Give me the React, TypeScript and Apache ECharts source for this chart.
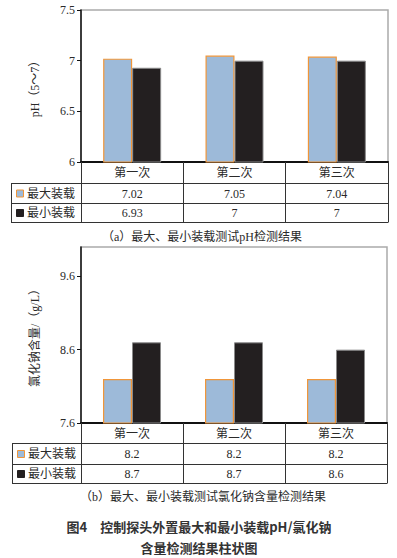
import React, { useEffect, useRef } from "react";
import * as echarts from "echarts";

const categories = ["第一次", "第二次", "第三次"];
const seriesNames = ["最大装载", "最小装载"];
const phMax = [7.02, 7.05, 7.04];
const phMin = [6.93, 7, 7];
const naclMax = [8.2, 8.2, 8.2];
const naclMin = [8.7, 8.7, 8.6];
const phAxis = { min: 6, max: 7.5, interval: 0.5 };
const naclTicks = [7.6, 8.6, 9.6];
const naclAxis = { min: 7.6, max: 10 };
const phName = "pH（5～7）";
const naclName = "氯化钠含量/（g/L）";
const captionA = "（a）最大、最小装载测试pH检测结果";
const captionB = "（b）最大、最小装载测试氯化钠含量检测结果";
const titleLines = ["图4　控制探头外置最大和最小装载pH/氯化钠", "含量检测结果柱状图"];

const SERIF = '"Liberation Serif", "Times New Roman", "Noto Sans CJK SC", serif';
const SANS = '"Noto Sans CJK SC", sans-serif';
const BLUE = "#9DBAD9";
const ORANGE = "#F0963A";
const BLACK = "#231F20";
const TXT = "#2a2a2a";

const top = { left: 81, top: 10, width: 307, height: 152, tableLeft: 11, rows: [162, 183, 203, 222] };
const bot = { left: 81, top: 247, width: 306, height: 176, tableLeft: 12, rows: [423, 443, 464, 483] };

function tableGraphics(g: typeof top, maxVals: number[], minVals: number[]) {
  const els: any[] = [];
  const right = g.left + g.width;
  const [, r1, r2, r3] = g.rows;
  [r1, r2, r3].forEach((y) => {
    els.push({ type: "line", shape: { x1: g.tableLeft, y1: y + 0.5, x2: right + 0.5, y2: y + 0.5 }, style: { stroke: "#333", lineWidth: 1 } });
  });
  els.push({ type: "line", shape: { x1: g.tableLeft + 0.5, y1: r1, x2: g.tableLeft + 0.5, y2: r3 + 1 }, style: { stroke: "#333", lineWidth: 1 } });
  const rowsY = [(r1 + r2) / 2 + 0.5, (r2 + r3) / 2 + 0.5];
  const colW = g.width / categories.length;
  [maxVals, minVals].forEach((vals, ri) => {
    const cy = rowsY[ri];
    els.push({
      type: "rect",
      shape: { x: g.tableLeft + 5.5, y: cy - 3.5, width: 7, height: 7 },
      style: ri === 0 ? { fill: BLUE, stroke: ORANGE, lineWidth: 1 } : { fill: BLACK, stroke: BLACK, lineWidth: 1 },
    });
    els.push({
      type: "text",
      x: g.tableLeft + 16,
      y: cy,
      style: { text: seriesNames[ri], font: `12px ${SERIF}`, fill: TXT, verticalAlign: "middle", align: "left" },
    });
    vals.forEach((v, ci) => {
      els.push({
        type: "text",
        x: g.left + (ci + 0.5) * colW,
        y: cy,
        style: { text: String(v), font: `12px ${SERIF}`, fill: TXT, verticalAlign: "middle", align: "center" },
      });
    });
  });
  return els;
}

export default function App() {
  const ref = useRef<HTMLDivElement>(null);
  useEffect(() => {
    if (!ref.current) return;
    const chart = echarts.init(ref.current, undefined, { renderer: "svg" });
    const xAxisCommon = {
      type: "category" as const,
      data: categories,
      axisLine: { lineStyle: { color: "#111", width: 2 } },
      axisTick: { show: true, interval: 0, length: 60, lineStyle: { color: "#333", width: 1 } },
      axisLabel: { color: TXT, fontSize: 12, fontFamily: SERIF, margin: 5, interval: 0 },
    };
    const yAxisCommon = {
      type: "value" as const,
      nameLocation: "middle" as const,
      nameTextStyle: { color: TXT, fontSize: 12, fontFamily: SERIF },
      axisLine: { show: true, lineStyle: { color: "#111", width: 1.5 } },
      axisTick: { show: true, length: 4, lineStyle: { color: "#111" } },
      splitLine: { show: false },
      axisLabel: { color: TXT, fontSize: 12, fontFamily: SERIF, margin: 6 },
    };
    const barMax = { itemStyle: { color: BLUE, borderColor: ORANGE, borderWidth: 1.2 } };
    const barMin = { itemStyle: { color: BLACK, borderColor: "#8a8a8a", borderWidth: 1 } };
    chart.setOption({
      animation: false,
      grid: [
        { left: top.left, top: top.top, width: top.width, height: top.height, show: true, borderColor: "#aaa", borderWidth: 1.5, backgroundColor: "transparent" },
        { left: bot.left, top: bot.top, width: bot.width, height: bot.height, show: true, borderColor: "#aaa", borderWidth: 1.5, backgroundColor: "transparent" },
      ],
      xAxis: [
        { ...xAxisCommon, gridIndex: 0 },
        { ...xAxisCommon, gridIndex: 1 },
      ],
      yAxis: [
        { ...yAxisCommon, gridIndex: 0, min: phAxis.min, max: phAxis.max, interval: phAxis.interval, name: phName, nameGap: 40 },
        {
          ...yAxisCommon,
          gridIndex: 1,
          min: naclAxis.min,
          max: naclAxis.max,
          name: naclName,
          nameGap: 40,
          axisLabel: { ...yAxisCommon.axisLabel, customValues: naclTicks },
          axisTick: { ...yAxisCommon.axisTick, customValues: naclTicks },
        },
      ],
      series: [
        { type: "bar", name: seriesNames[0], xAxisIndex: 0, yAxisIndex: 0, data: phMax, barWidth: 29, barGap: "0%", ...barMax },
        { type: "bar", name: seriesNames[1], xAxisIndex: 0, yAxisIndex: 0, data: phMin, barWidth: 29, barGap: "0%", ...barMin },
        { type: "bar", name: seriesNames[0], xAxisIndex: 1, yAxisIndex: 1, data: naclMax, barWidth: 29, barGap: "0%", ...barMax },
        { type: "bar", name: seriesNames[1], xAxisIndex: 1, yAxisIndex: 1, data: naclMin, barWidth: 29, barGap: "0%", ...barMin },
      ],
      graphic: [
        ...tableGraphics(top, phMax, phMin),
        ...tableGraphics(bot, naclMax, naclMin),
        { type: "text", x: 202, y: 237, style: { text: captionA, font: `12px ${SERIF}`, fill: TXT, align: "center", verticalAlign: "middle" } },
        { type: "text", x: 203, y: 497, style: { text: captionB, font: `12px ${SERIF}`, fill: TXT, align: "center", verticalAlign: "middle" } },
        { type: "text", x: 199, y: 526, style: { text: titleLines[0], font: `bold 13px ${SANS}`, fill: "#333", align: "center", verticalAlign: "middle" } },
        { type: "text", x: 199, y: 547, style: { text: titleLines[1], font: `bold 13px ${SANS}`, fill: "#333", align: "center", verticalAlign: "middle" } },
      ],
    });
    return () => chart.dispose();
  }, []);
  return <div ref={ref} style={{ position: "absolute", left: 0, top: 0, width: 397, height: 558 }} />;
}
